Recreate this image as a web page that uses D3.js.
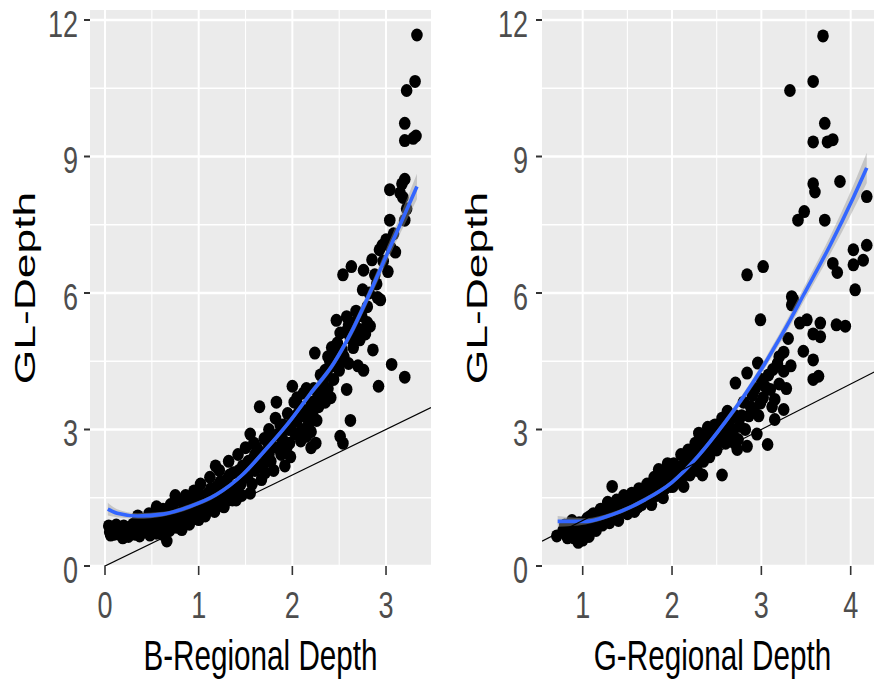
<!DOCTYPE html>
<html>
<head>
<meta charset="utf-8">
<script src="https://cdn.jsdelivr.net/npm/d3@7/dist/d3.min.js"></script>
<style>
  html, body { margin: 0; padding: 0; background: #ffffff; }
  svg { display: block; }
  text { font-family: "Liberation Sans", Arial, sans-serif; }
</style>
</head>
<body>
<svg id="chart" width="874" height="684"></svg>
<script>
// ---- data ---------------------------------------------------------------
const yTicks = [0, 3, 6, 9, 12];
const bTicks = [0, 1, 2, 3];
const gTicks = [1, 2, 3, 4];

// B-regional depth vs GL depth
const bDepth = [0.04,0.05,0.08,0.10,0.12,0.15,0.17,0.20,0.22,0.25,0.27,0.30,0.32,0.35,0.37,0.40,0.42,0.44,0.47,0.50,
  0.52,0.55,0.57,0.60,0.62,0.64,0.66,0.68,0.70,0.72,0.75,0.78,0.80,0.82,0.84,0.86,0.88,0.90,0.92,0.95,
  0.97,1.00,1.00,1.02,1.05,1.07,1.10,1.12,1.15,1.17,1.20,1.22,1.25,1.27,1.30,1.32,1.35,1.37,1.40,1.42,
  1.45,1.47,1.50,1.52,1.55,1.55,1.58,1.60,1.62,1.65,1.67,1.70,1.72,1.75,1.78,1.80,1.82,1.83,1.85,1.88,
  1.90,1.92,1.95,1.97,1.98,2.00,2.02,2.05,2.08,2.10,2.12,2.15,2.17,2.20,2.20,2.22,2.24,2.25,2.27,2.30,
  2.32,2.35,2.38,2.40,2.44,2.47,2.50,2.51,2.51,2.54,2.54,2.55,2.58,2.58,2.62,2.62,2.63,2.65,2.68,2.70,
  2.72,2.72,2.75,2.76,2.76,2.80,2.80,2.83,2.85,2.86,2.90,2.91,2.92,2.93,2.94,2.96,3.00,3.02,3.04,3.04,
  3.06,3.10,3.15,3.17,3.18,3.20,3.20,3.20,3.22,3.20,3.20,3.29,3.32,3.22,3.31,3.33,
  2.05,2.15,2.20,2.28,2.35,2.38,2.42,2.45,2.48,2.52,2.60,2.64,1.68,1.75,1.60,1.90,1.96,0.35,0.55,0.75,1.18,
  0.06,0.14,0.19,0.24,0.29,0.33,0.38,0.45,0.48,0.53,0.58,0.61,0.65,0.69,0.73,0.77,0.81,0.85,0.87,0.91,
  0.94,0.98,1.03,1.06,1.09,1.13,1.16,1.19,1.23,1.26,1.29,1.33,1.36,1.39,1.43,1.46,1.49,1.53,1.57,1.59,
  1.63,1.66,1.71,1.74,1.77,1.79,1.84,1.87,1.89,1.94,1.99,2.03,2.06,2.09,2.13,2.18,2.23,2.26,2.30,2.33,
  2.37,2.41,2.46,2.53,2.57,2.60,2.66,2.69,2.74,2.78,2.82,2.88,2.97,3.05,3.08];
const bGL = [0.88,0.75,0.85,0.70,0.90,0.78,0.68,0.88,0.72,0.65,0.85,0.92,0.70,0.80,0.66,0.90,1.02,0.75,1.15,0.88,
  1.00,0.72,1.10,0.95,1.25,0.82,0.55,1.05,1.35,0.90,1.15,1.45,0.98,0.80,1.25,1.55,1.10,0.92,1.35,1.65,
  1.20,1.02,1.45,1.80,1.30,1.10,1.60,1.95,1.40,1.20,1.75,2.10,1.50,1.30,1.90,2.30,1.60,2.05,1.45,2.45,
  1.80,2.20,2.60,1.95,1.60,2.90,2.35,2.10,2.60,3.50,1.90,2.80,2.30,3.00,2.60,2.10,3.25,3.60,2.90,2.45,
  3.10,2.20,3.35,2.70,2.40,3.95,3.60,3.20,3.50,3.00,3.80,2.85,3.10,2.60,2.95,3.30,4.68,2.70,3.70,4.20,
  3.95,4.30,3.90,4.50,4.10,5.40,4.30,5.12,2.85,2.70,6.40,4.60,5.48,3.88,3.20,5.00,6.58,4.80,5.60,4.40,
  4.97,5.20,6.07,4.30,6.50,5.70,5.35,5.27,6.73,4.75,6.20,5.90,3.95,6.95,5.85,7.05,7.17,6.47,7.60,8.27,
  4.43,6.90,8.20,8.40,8.10,8.50,7.60,4.15,7.85,9.73,9.35,9.40,9.45,10.45,10.65,11.67,
  3.70,3.90,3.60,3.50,3.60,4.60,4.80,4.40,4.90,4.50,5.30,5.20,2.20,2.45,2.45,2.75,3.00,1.10,1.30,1.55,2.20,
  0.68,0.72,0.62,0.82,0.72,0.95,0.75,0.92,0.68,0.82,0.85,0.70,1.10,0.78,1.25,0.85,1.15,0.95,1.35,1.10,
  1.45,1.30,1.55,1.20,1.40,1.70,1.30,1.50,1.85,1.40,1.65,2.00,1.45,1.75,2.10,1.55,2.00,2.30,1.80,2.70,
  2.25,2.50,2.05,2.70,2.30,2.85,2.60,3.10,2.80,2.60,3.10,2.90,3.35,2.75,3.30,3.45,3.90,3.20,3.75,4.10,
  4.25,3.70,4.65,4.75,5.15,4.45,5.35,5.00,5.50,5.10,6.00,6.40,6.70,7.00,7.30];

// G-regional depth vs GL depth
const gDepth = [0.71,0.80,0.85,0.88,0.90,0.93,0.95,0.97,1.00,1.00,1.02,1.05,1.07,1.10,1.12,1.15,1.18,1.20,1.22,1.25,
  1.28,1.30,1.33,1.35,1.38,1.40,1.43,1.46,1.50,1.52,1.55,1.58,1.60,1.63,1.66,1.70,1.72,1.75,1.78,1.80,
  1.83,1.85,1.88,1.90,1.93,1.95,1.98,2.00,2.02,2.05,2.08,2.10,2.13,2.15,2.18,2.20,2.23,2.26,2.28,2.30,
  2.33,2.34,2.36,2.40,2.42,2.45,2.48,2.50,2.53,2.56,2.56,2.60,2.62,2.65,2.68,2.71,2.71,2.73,2.74,2.76,
  2.80,2.84,2.84,2.86,2.90,2.92,2.95,2.96,2.99,3.00,3.02,2.99,2.84,3.04,3.07,3.10,3.13,3.15,3.15,3.25,
  3.25,3.33,3.36,3.34,3.43,3.47,3.51,3.58,3.58,3.64,3.58,3.66,3.66,3.94,3.84,3.41,3.48,3.71,3.58,3.60,
  3.88,3.58,3.74,3.80,3.71,3.58,3.32,3.69,3.80,3.85,4.03,4.03,4.14,4.18,4.05,4.18,3.30,3.25,3.20,3.34,
  0.78,0.83,0.86,0.92,0.96,0.99,1.03,1.06,1.09,1.13,1.17,1.21,1.24,1.27,1.31,1.34,1.37,1.41,1.45,1.48,
  1.54,1.57,1.62,1.65,1.68,1.74,1.77,1.82,1.86,1.89,1.92,1.97,2.01,2.04,2.07,2.11,2.14,2.17,2.21,2.24,
  2.27,2.31,2.35,2.38,2.41,2.44,2.47,2.51,2.54,2.58,2.61,2.64,2.67,2.70,2.78,2.82,2.88,2.93,2.97,3.02,
  3.08,3.12,3.20,3.18,3.28];
const gGL = [0.66,0.90,0.75,1.00,0.62,0.85,0.52,0.72,0.57,0.95,0.78,1.05,0.65,0.90,1.15,0.78,1.05,1.25,0.90,1.15,
  1.40,0.95,1.75,1.20,1.45,1.00,1.30,1.55,1.15,1.40,1.60,1.20,1.50,1.70,1.35,1.60,1.80,1.45,1.70,1.95,
  1.55,2.12,1.85,1.50,2.05,2.25,1.75,2.00,2.25,1.85,2.15,2.45,1.75,2.25,2.55,2.00,2.35,2.70,2.10,2.92,
  2.50,2.00,2.80,3.05,2.40,2.75,3.10,2.55,2.90,2.00,3.25,2.70,3.40,3.05,2.93,4.02,3.30,2.56,2.78,3.07,
  3.60,2.63,4.24,3.30,3.75,3.40,2.90,4.46,3.58,4.10,6.58,5.41,6.40,3.95,2.67,3.88,4.32,3.22,3.66,3.44,
  4.28,4.40,5.85,5.92,5.34,4.72,5.41,4.53,4.10,4.17,5.10,5.34,5.04,5.27,5.30,7.60,7.79,7.60,8.40,8.22,
  8.45,9.32,9.32,9.37,9.73,10.65,10.45,11.65,6.65,6.45,6.95,6.62,6.72,7.05,6.07,8.12,5.00,4.70,4.60,5.74,
  0.78,0.62,0.88,0.72,0.95,0.68,0.88,0.75,1.10,0.95,0.88,1.10,0.98,1.20,1.10,1.35,1.05,1.20,1.35,1.25,
  1.30,1.45,1.30,1.55,1.45,1.65,1.35,1.75,1.60,1.95,1.70,2.00,1.75,2.10,1.95,2.20,2.00,2.35,2.15,2.50,
  2.30,2.60,2.30,2.60,2.85,2.55,2.90,2.75,3.05,2.85,3.10,2.80,3.25,2.70,3.30,3.00,3.50,3.90,3.30,3.70,
  4.20,3.50,4.00,4.45,3.90];

// smoothed trend with its standard-error half width
const bFitX  = [0.03,0.13,0.35,0.62,0.91,1.19,1.47,1.69,1.98,2.19,2.44,2.62,2.80,3.01,3.15,3.33];
const bFitY  = [1.25,1.16,1.10,1.14,1.31,1.57,2.01,2.50,3.20,3.78,4.45,5.10,5.88,6.85,7.50,8.34];
const bFitSE = [0.14,0.09,0.06,0.05,0.05,0.05,0.05,0.06,0.06,0.07,0.08,0.10,0.12,0.16,0.20,0.28];

const gFitX  = [0.72,1.03,1.33,1.70,2.00,2.29,2.59,2.82,3.04,3.13,3.32,3.47,3.77,4.03,4.18];
const gFitY  = [0.98,0.98,1.13,1.46,1.84,2.41,3.15,3.78,4.45,4.75,5.40,5.95,7.05,8.10,8.75];
const gFitSE = [0.12,0.07,0.05,0.05,0.05,0.06,0.07,0.08,0.10,0.11,0.13,0.15,0.20,0.27,0.33];

// ---- drawing ------------------------------------------------------------
const svg = d3.select("#chart");
const panelTop = 10, panelBottom = 566;
const y = d3.scaleLinear().domain([0, 12]).range([panelBottom, 20]);

const panels = [
  { left: 90,  right: 431, domain: [-0.1601, 3.4801], ticks: bTicks,
    xs: bDepth, ys: bGL, fx: bFitX, fy: bFitY, fse: bFitSE,
    xTitle: "B-Regional Depth", yTitleX: 35, labelRight: 78 },
  { left: 542, right: 883, domain: [0.5444, 4.3617], ticks: gTicks,
    xs: gDepth, ys: gGL, fx: gFitX, fy: gFitY, fse: gFitSE,
    xTitle: "G-Regional Depth", yTitleX: 487, labelRight: 528 }
];

panels.forEach((p, i) => {
  const x = d3.scaleLinear().domain(p.domain).range([p.left, p.right]);
  const g = svg.append("g");

  const clipId = "clip" + i;
  g.append("clipPath").attr("id", clipId)
    .append("rect").attr("x", p.left).attr("y", panelTop)
    .attr("width", p.right - p.left).attr("height", panelBottom - panelTop);

  g.append("rect").attr("x", p.left).attr("y", panelTop)
    .attr("width", p.right - p.left).attr("height", panelBottom - panelTop)
    .attr("fill", "#EBEBEB");

  const plot = g.append("g").attr("clip-path", `url(#${clipId})`);

  // minor grid
  const xMinor = p.ticks.map(t => t - 0.5).concat([p.ticks[p.ticks.length - 1] + 0.5]);
  const yMinor = [1.5, 4.5, 7.5, 10.5];
  plot.selectAll(".xminor").data(xMinor).join("line")
    .attr("x1", d => x(d)).attr("x2", d => x(d)).attr("y1", panelTop).attr("y2", panelBottom)
    .attr("stroke", "#ffffff").attr("stroke-width", 1.1);
  plot.selectAll(".yminor").data(yMinor).join("line")
    .attr("x1", p.left).attr("x2", p.right).attr("y1", d => y(d)).attr("y2", d => y(d))
    .attr("stroke", "#ffffff").attr("stroke-width", 1.4);
  // major grid
  plot.selectAll(".xmajor").data(p.ticks).join("line")
    .attr("x1", d => x(d)).attr("x2", d => x(d)).attr("y1", panelTop).attr("y2", panelBottom)
    .attr("stroke", "#ffffff").attr("stroke-width", 2);
  plot.selectAll(".ymajor").data(yTicks).join("line")
    .attr("x1", p.left).attr("x2", p.right).attr("y1", d => y(d)).attr("y2", d => y(d))
    .attr("stroke", "#ffffff").attr("stroke-width", 2.4);

  // observations
  plot.selectAll(".pt").data(p.xs.map((v, k) => [v, p.ys[k]])).join("ellipse")
    .attr("cx", d => x(d[0])).attr("cy", d => y(d[1]))
    .attr("rx", 5.8).attr("ry", 6.5).attr("fill", "#000000");

  // standard-error ribbon and trend line
  const fit = p.fx.map((v, k) => ({ x: v, y: p.fy[k], se: p.fse[k] }));
  plot.append("path").datum(fit)
    .attr("d", d3.area().curve(d3.curveMonotoneX)
      .x(d => x(d.x)).y0(d => y(d.y - d.se)).y1(d => y(d.y + d.se)))
    .attr("fill", "rgba(153,153,153,0.45)");
  plot.append("path").datum(fit)
    .attr("d", d3.line().curve(d3.curveMonotoneX).x(d => x(d.x)).y(d => y(d.y)))
    .attr("fill", "none").attr("stroke", "#3366FF").attr("stroke-width", 3.6);

  // identity line
  plot.append("line")
    .attr("x1", x(p.domain[0])).attr("y1", y(p.domain[0]))
    .attr("x2", x(p.domain[1])).attr("y2", y(p.domain[1]))
    .attr("stroke", "#000000").attr("stroke-width", 1.2);

  // axis ticks
  g.selectAll(".xt").data(p.ticks).join("line")
    .attr("x1", d => x(d)).attr("x2", d => x(d)).attr("y1", panelBottom).attr("y2", panelBottom + 9)
    .attr("stroke", "#333333").attr("stroke-width", 1.6);
  g.selectAll(".yt").data(yTicks).join("line")
    .attr("x1", p.left - 6).attr("x2", p.left).attr("y1", d => y(d)).attr("y2", d => y(d))
    .attr("stroke", "#333333").attr("stroke-width", 2);

  // tick labels (glyphs are condensed horizontally)
  g.selectAll(".xl").data(p.ticks).join("text")
    .attr("transform", d => `translate(${x(d)},618) scale(0.73,1)`)
    .attr("text-anchor", "middle").attr("fill", "#4D4D4D")
    .style("font-size", "37px").text(d => d);
  g.selectAll(".yl").data(yTicks).join("text")
    .attr("transform", d => `translate(${p.labelRight},${y(d) + 16.5}) scale(0.73,1)`)
    .attr("text-anchor", "end").attr("fill", "#4D4D4D")
    .style("font-size", "37px").text(d => d);

  // axis titles
  g.append("text")
    .attr("transform", `translate(${(p.left + p.right) / 2},670) scale(0.69,1)`)
    .attr("text-anchor", "middle").attr("fill", "#000000")
    .style("font-size", "43px").text(p.xTitle);
  g.append("text")
    .attr("transform", `translate(${p.yTitleX},${(panelTop + panelBottom) / 2}) rotate(-90) scale(1.53,1)`)
    .attr("text-anchor", "middle").attr("fill", "#000000")
    .style("font-size", "29px").text("GL-Depth");
});
</script>
</body>
</html>
